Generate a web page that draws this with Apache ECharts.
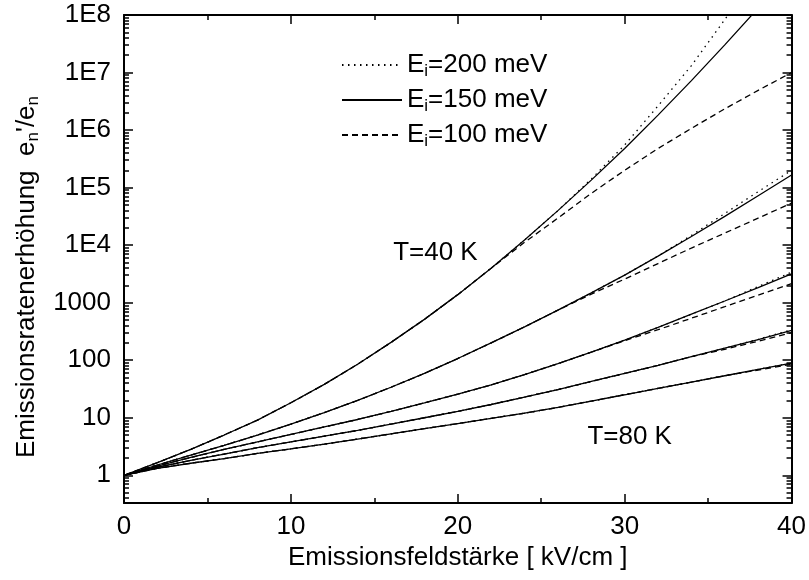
<!DOCTYPE html>
<html lang="de">
<head>
<meta charset="UTF-8">
<title>Emissionsratenerhöhung</title>
<script src="https://cdn.jsdelivr.net/npm/echarts@6/dist/echarts.min.js"></script>
<style>
    html, body {margin: 0; padding: 0; background: #fff;}
    #chart {width: 809px; height: 580px;}
</style>
</head>
<body>
<div id="chart"></div>
<script>
// Emissionsfeldstaerke in kV/cm
var feld = [0, 2, 4, 6, 8, 10, 12, 14, 16, 18, 20, 22, 24, 26, 28, 30, 32, 34, 36, 38, 40];

// T = 40 K
var t40_200 = [1, 1.66, 2.82, 5.01, 9.12, 18.2, 38, 85.1, 204, 513, 1380, 3980, 1.23e4, 3.98e4, 1.41e5, 5.5e5, 2.63e6, 1.32e7, 8.32e7, 6.03e8, 5.0e9];
var t40_150 = [1, 1.66, 2.82, 5.01, 9.12, 18.2, 38, 85.1, 204, 513, 1380, 3980, 1.23e4, 3.98e4, 1.35e5, 4.79e5, 1.82e6, 7.24e6, 3.02e7, 1.32e8, 6.03e8];
var t40_100 = [1, 1.66, 2.82, 5.01, 9.12, 18.2, 38, 85.1, 204, 513, 1380, 3980, 1.12e4, 2.95e4, 7.94e4, 2.0e5, 4.79e5, 1.07e6, 2.34e6, 4.9e6, 1.0e7];
// T = 50 K
var t50_200 = [1, 1.51, 2.24, 3.31, 5.01, 7.76, 12.3, 20, 33.9, 58.9, 107, 200, 380, 741, 1480, 3020, 6460, 1.48e4, 3.55e4, 8.51e4, 2.0e5];
var t50_150 = [1, 1.51, 2.24, 3.31, 5.01, 7.76, 12.3, 20, 33.9, 58.9, 107, 200, 380, 741, 1480, 3020, 6460, 1.41e4, 3.16e4, 7.24e4, 1.66e5];
var t50_100 = [1, 1.51, 2.24, 3.31, 5.01, 7.76, 12.3, 20, 33.9, 58.9, 107, 200, 380, 741, 1410, 2570, 4790, 8910, 1.62e4, 2.95e4, 5.37e4];
// T = 60 K
var t60_200 = [1, 1.45, 2.04, 2.82, 3.8, 5.13, 6.92, 9.33, 12.9, 18.2, 25.7, 37.2, 56.2, 87.1, 138, 224, 372, 631, 1070, 1910, 3390];
var t60_150 = [1, 1.45, 2.04, 2.82, 3.8, 5.13, 6.92, 9.33, 12.9, 18.2, 25.7, 37.2, 56.2, 87.1, 138, 224, 372, 631, 1070, 1820, 3160];
var t60_100 = [1, 1.45, 2.04, 2.82, 3.8, 5.13, 6.92, 9.33, 12.9, 18.2, 25.7, 37.2, 56.2, 87.1, 138, 219, 339, 537, 851, 1350, 2140];
// T = 70 K
var t70_200 = [1, 1.38, 1.82, 2.34, 3.02, 3.8, 4.79, 6.03, 7.76, 10, 12.9, 17, 22.9, 30.9, 42.7, 58.9, 81.3, 115, 162, 231, 339];
var t70_150 = [1, 1.38, 1.82, 2.34, 3.02, 3.8, 4.79, 6.03, 7.76, 10, 12.9, 17, 22.9, 30.9, 42.7, 58.9, 81.3, 115, 162, 229, 331];
var t70_100 = [1, 1.38, 1.82, 2.34, 3.02, 3.8, 4.79, 6.03, 7.76, 10, 12.9, 17, 22.9, 30.9, 42.7, 58.9, 81.3, 115, 155, 214, 302];
// T = 80 K
var t80_200 = [1, 1.32, 1.62, 1.95, 2.4, 2.88, 3.47, 4.27, 5.25, 6.46, 7.94, 9.77, 12.0, 15.1, 19.5, 25.1, 32.4, 41.7, 53.7, 69.2, 89.1];
var t80_150 = [1, 1.32, 1.62, 1.95, 2.4, 2.88, 3.47, 4.27, 5.25, 6.46, 7.94, 9.77, 12.0, 15.1, 19.5, 25.1, 32.4, 41.7, 53.7, 69.2, 89.1];
var t80_100 = [1, 1.32, 1.62, 1.95, 2.4, 2.88, 3.47, 4.27, 5.25, 6.46, 7.94, 9.77, 12.0, 15.1, 19.5, 25.1, 32.4, 41.7, 53.7, 67.6, 85.1];

var energien = ['200', '150', '100'];
var yTicks = [1, 10, 100, 1000, 1e4, 1e5, 1e6, 1e7, 1e8];
var tempText = ['T=40 K', 'T=80 K'];
var tempPos = [[18.66, 7400], [30.3, 4.6]];

var schrift = "'Liberation Sans', Arial, sans-serif";
var gross = 26;

// kleine Teilstriche 2..9 je Dekade
var yMinor = [];
for (var d = -1; d < 8; d++) {
    for (var k = 2; k < 10; k++) {
        var v = k * Math.pow(10, d);
        if (v >= 0.33 && v <= 1e8) yMinor.push(v);
    }
}

var stile = {'200': [1.5, 4.5], '150': 'solid', '100': [6, 4]};

function linie(name, werte) {
    return {
        type: 'line',
        name: name,
        data: feld.map(function (f, i) { return [f, werte[i]] }),
        symbol: 'none',
        showSymbol: false,
        smooth: false,
        clip: true,
        silent: true,
        itemStyle: {color: '#000'},
        lineStyle: {color: '#000', width: 1.3, type: stile[name]}
    }
}

var series = [
    linie('200', t40_200), linie('150', t40_150), linie('100', t40_100),
    linie('200', t50_200), linie('150', t50_150), linie('100', t50_100),
    linie('200', t60_200), linie('150', t60_150), linie('100', t60_100),
    linie('200', t70_200), linie('150', t70_150), linie('100', t70_100),
    linie('200', t80_200), linie('150', t80_150), linie('100', t80_100)
];

// Beschriftung der Temperaturen
series[1].markPoint = {
    symbol: 'rect',
    symbolSize: 1,
    itemStyle: {color: 'transparent'},
    silent: true,
    label: {show: true, position: 'inside', color: '#000', fontSize: gross, fontFamily: schrift,
        formatter: function (p) { return p.name }},
    data: tempText.map(function (t, i) { return {name: t, coord: tempPos[i]} })
};

function achseY(pos, werte, laenge, linie, labels) {
    return {
        type: 'log', logBase: 10, min: 0.33, max: 1e8, position: pos,
        axisLine: {show: linie, lineStyle: {color: '#000', width: 2}},
        axisTick: {show: true, inside: true, length: laenge, customValues: werte,
            lineStyle: {color: '#000', width: 1.5}},
        axisLabel: {show: labels, customValues: werte, color: '#000', fontSize: gross, fontFamily: schrift, margin: 13,
            formatter: function (v) { return v < 1e4 ? String(v) : '1E' + Math.round(Math.log10(v)) }},
        splitLine: {show: false}
    }
}

function achseX(pos, labels) {
    return {
        type: 'value', min: 0, max: 40, interval: 10, position: pos,
        axisLine: {show: true, onZero: false, lineStyle: {color: '#000', width: 2}},
        axisTick: {show: true, inside: true, length: 9, lineStyle: {color: '#000', width: 1.5}},
        minorTick: {show: true, splitNumber: 2, length: 5, lineStyle: {color: '#000', width: 1.5}},
        axisLabel: {show: labels, color: '#000', fontSize: gross, fontFamily: schrift, margin: 11},
        splitLine: {show: false}
    }
}

var xUnten = achseX('bottom', true);
xUnten.name = 'Emissionsfeldstärke [ kV/cm ]';
xUnten.nameLocation = 'middle';
xUnten.nameGap = 37;
xUnten.nameTextStyle = {color: '#000', fontSize: gross, fontFamily: schrift};

var yLinks = achseY('left', yTicks, 9, true, true);
yLinks.name = "Emissionsratenerhöhung  e{s|n}'/e{s|n}";
yLinks.nameLocation = 'middle';
yLinks.nameGap = 81;
// Titel etwas nach unten geschoben wie im Original
yLinks.nameTextStyle = {color: '#000', fontSize: gross, fontFamily: schrift, padding: [0, 36, 0, 0],
    rich: {s: {fontSize: 17, fontFamily: schrift, color: '#000', padding: [13, 0, 0, 0]}}};

var chart = echarts.init(document.getElementById('chart'), null, {renderer: 'canvas'});
chart.setOption({
    animation: false,
    backgroundColor: '#fff',
    grid: {left: 124, right: 14, top: 15, bottom: 77, containLabel: false},
    legend: {
        data: energien,
        orient: 'vertical',
        left: 336, top: 47,
        itemWidth: 60, itemHeight: 14, itemGap: 7,
        selectedMode: false,
        itemStyle: {opacity: 0},
        formatter: function (n) { return '{n|E}{s|i}{n|=' + n + ' meV}' },
        textStyle: {
            color: '#000', fontSize: gross, fontFamily: schrift,
            rich: {
                n: {fontSize: gross, fontFamily: schrift, color: '#000'},
                s: {fontSize: 17, fontFamily: schrift, color: '#000', padding: [13, 0, 0, 0]}
            }
        }
    },
    xAxis: [xUnten, achseX('top', false)],
    yAxis: [
        yLinks,
        achseY('left', yMinor, 5, false, false),
        achseY('right', yTicks, 9, true, false),
        achseY('right', yMinor, 5, false, false)
    ],
    series: series
});
</script>
</body>
</html>
